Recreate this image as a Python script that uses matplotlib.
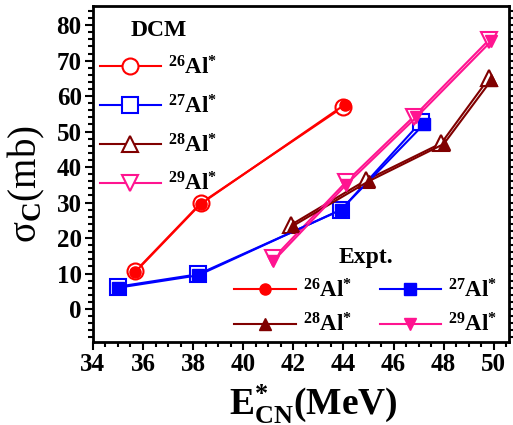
import matplotlib.pyplot as plt
from matplotlib.ticker import MultipleLocator

plt.rcParams['font.family'] = ['Liberation Serif', 'DejaVu Serif']
plt.rcParams['font.weight'] = 'bold'
plt.rcParams['mathtext.fontset'] = 'custom'
plt.rcParams['mathtext.rm'] = 'Liberation Serif'
plt.rcParams['mathtext.it'] = 'Liberation Serif:italic'
plt.rcParams['mathtext.bf'] = 'Liberation Serif:bold'

# DCM (calculated) values
dcm26_x = [35.7, 38.3, 44.0]
dcm26_y = [10.7, 29.8, 57.0]
dcm27_x = [35.0, 38.2, 43.9, 47.1]
dcm27_y = [6.3, 9.8, 27.9, 52.8]
dcm28_x = [41.9, 44.9, 47.9, 49.8]
dcm28_y = [23.7, 36.3, 46.7, 65.0]
dcm29_x = [41.2, 44.1, 46.8, 49.8]
dcm29_y = [14.3, 35.8, 54.2, 75.8]

# experimental values
exp26_x = [35.7, 38.3, 44.05]
exp26_y = [10.5, 29.6, 57.6]
exp27_x = [35.0, 38.2, 43.9, 47.2]
exp27_y = [6.0, 9.5, 28.0, 52.0]
exp28_x = [42.0, 45.0, 48.0, 49.9]
exp28_y = [23.5, 36.0, 46.5, 64.5]
exp29_x = [41.2, 44.1, 46.9, 49.9]
exp29_y = [13.5, 35.0, 54.0, 75.5]

labels = [r'$\mathbf{^{26}Al^{*}}$', r'$\mathbf{^{27}Al^{*}}$',
          r'$\mathbf{^{28}Al^{*}}$', r'$\mathbf{^{29}Al^{*}}$']
colors = ['#ff0000', '#0000ff', '#800000', '#ff1490']

fig = plt.figure(figsize=(5.13, 4.25), dpi=100)
ax = fig.add_axes([0.181, 0.196, 0.811, 0.79])

dcm = [(dcm26_x, dcm26_y, 'o'), (dcm27_x, dcm27_y, 's'),
       (dcm28_x, dcm28_y, '^'), (dcm29_x, dcm29_y, 'v')]
exp = [(exp26_x, exp26_y, 'o'), (exp27_x, exp27_y, 's'),
       (exp28_x, exp28_y, '^'), (exp29_x, exp29_y, 'v')]

dcm_handles = []
for (x, y, m), c, lab in zip(dcm, colors, labels):
    h, = ax.plot(x, y, color=c, marker=m, ms=11.5, mfc='white', mec=c, mew=1.5,
                 lw=1.5, label=lab, zorder=2)
    dcm_handles.append(h)

exp_handles = []
for (x, y, m), c, lab in zip(exp, colors, labels):
    h, = ax.plot(x, y, color=c, marker=m, ms=8, mfc=c, mec=c,
                 lw=1.5, label=lab, zorder=3)
    exp_handles.append(h)

ax.set_xlim(34, 50.6)
ax.set_ylim(-9.2, 85.4)
ax.xaxis.set_major_locator(MultipleLocator(2))
ax.xaxis.set_minor_locator(MultipleLocator(0.5))
ax.yaxis.set_major_locator(MultipleLocator(10))
ax.yaxis.set_minor_locator(MultipleLocator(2))
ax.tick_params(which='both', direction='out', right=True, top=False, width=1.5)
ax.tick_params(which='major', length=6, labelsize=18, pad=2)
ax.tick_params(which='minor', length=3.5)
for lab in ax.get_xticklabels() + ax.get_yticklabels():
    lab.set_fontweight('bold')
for s in ax.spines.values():
    s.set_linewidth(2)

ax.set_xlabel(r'$\mathbf{E^{*}_{CN}}$(MeV)', fontsize=27, fontweight='bold')
ax.xaxis.set_label_coords(0.53, -0.12)
ax.set_ylabel('σ$_\\mathrm{C}$(mb)', fontsize=28, fontweight='normal')
ax.yaxis.set_label_coords(-0.11, 0.47)

leg1 = ax.legend(handles=dcm_handles, loc='upper left', bbox_to_anchor=(-0.017, 1.0),
                 frameon=False, fontsize=16.5, title='DCM', handlelength=2.7,
                 labelspacing=0.68, handletextpad=0.3, borderaxespad=0.2,
                 title_fontproperties={'weight': 'bold', 'size': 17})
ax.add_artist(leg1)

order = [exp_handles[0], exp_handles[2], exp_handles[1], exp_handles[3]]
ax.legend(handles=order, loc='lower right', bbox_to_anchor=(1.0, -0.02),
          frameon=False, fontsize=16.5, ncol=2, title='Expt.', handlelength=2.7,
          labelspacing=0.5, handletextpad=0.3, columnspacing=1.2, borderaxespad=0.1,
          title_fontproperties={'weight': 'bold', 'size': 17})

fig.savefig('out.png', dpi=100)
